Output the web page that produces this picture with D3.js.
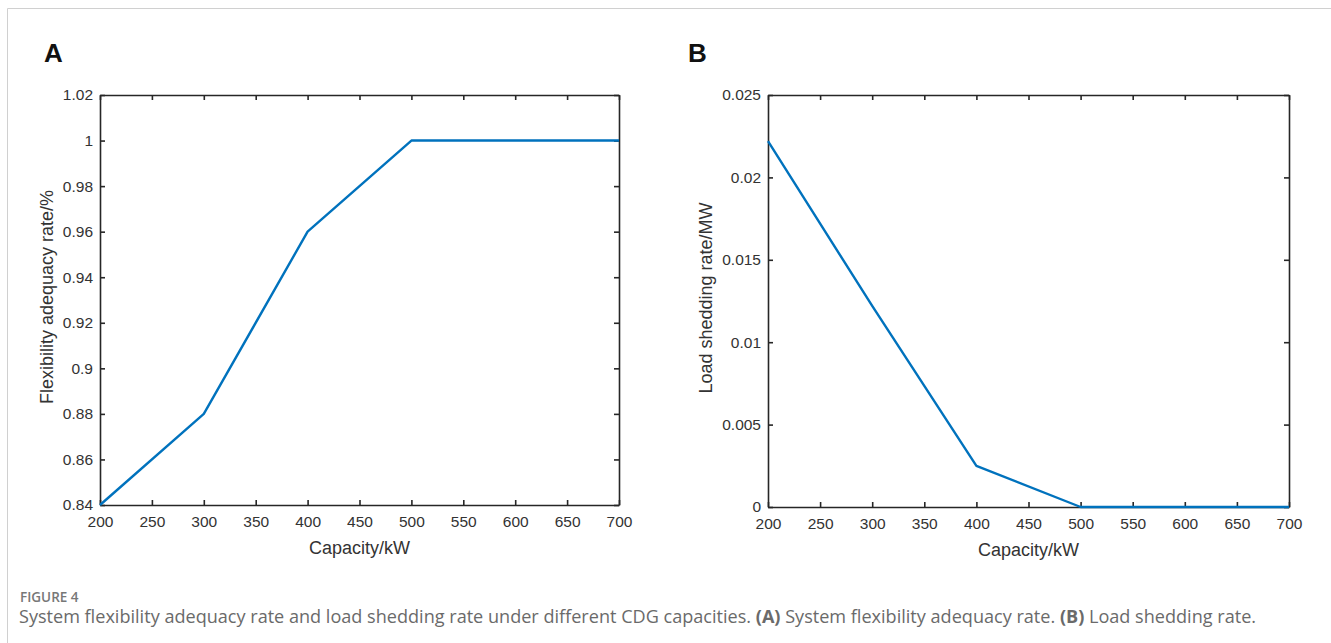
<!DOCTYPE html>
<html>
<head>
<meta charset="utf-8">
<script src="https://cdn.jsdelivr.net/npm/d3@7"></script>
<style>
  body { margin: 0; background: #fff; }
  svg { display: block; }
</style>
</head>
<body>
<svg width="1331" height="643"></svg>
<script>
// capacity values (kW)
const capacity = [200, 300, 400, 500, 600, 700];
const adequacyRate = [0.84, 0.88, 0.96, 1, 1, 1];
const sheddingRate = [0.0222, 0.0122, 0.0025, 0, 0, 0];

const xTicks = [200, 250, 300, 350, 400, 450, 500, 550, 600, 650, 700];
const yTicksA = [0.84, 0.86, 0.88, 0.9, 0.92, 0.94, 0.96, 0.98, 1, 1.02];
const yTicksB = [0, 0.005, 0.01, 0.015, 0.02, 0.025];

const svg = d3.select("svg");
const fmt = d3.format("~g");
const lineColor = "#0072bd";
const axisColor = "#262626";
const font = "Liberation Sans, Arial, sans-serif";

// card border
svg.append("path")
  .attr("d", "M7.5,643 V8.5 H1331")
  .attr("fill", "none")
  .attr("stroke", "#d0d0d0")
  .attr("stroke-width", 1);

function drawPanel(opts) {
  const x = d3.scaleLinear().domain([200, 700]).range([opts.left, opts.right]);
  const y = d3.scaleLinear().domain(opts.yDomain).range([opts.bottom, opts.top]);
  const g = svg.append("g");

  // panel letter
  g.append("text")
    .attr("x", opts.letterX).attr("y", 62)
    .attr("font-family", font)
    .attr("font-weight", "bold")
    .attr("font-size", 26)
    .attr("fill", "#111")
    .text(opts.letter);

  const tick = 5;
  const axes = [
    [d3.axisBottom(x).tickValues(xTicks).tickFormat(fmt).tickSizeInner(-tick).tickSizeOuter(0).tickPadding(11), `translate(0,${opts.bottom})`],
    [d3.axisTop(x).tickValues(xTicks).tickSizeInner(-tick).tickSizeOuter(0).tickFormat(""), `translate(0,${opts.top})`],
    [d3.axisLeft(y).tickValues(opts.yTicks).tickFormat(fmt).tickSizeInner(-tick).tickSizeOuter(0).tickPadding(7), `translate(${opts.left},0)`],
    [d3.axisRight(y).tickValues(opts.yTicks).tickSizeInner(-tick).tickSizeOuter(0).tickFormat(""), `translate(${opts.right},0)`]
  ];
  axes.forEach(([ax, tr]) => {
    const a = g.append("g").attr("transform", tr).call(ax);
    a.select(".domain").attr("stroke", axisColor).attr("stroke-width", 1.6);
    a.selectAll(".tick line").attr("stroke", axisColor).attr("stroke-width", 1.6);
    a.selectAll("text")
      .attr("font-family", font)
      .attr("font-size", 15.5)
      .attr("fill", "#333");
  });

  // series
  const line = d3.line()
    .x((d, i) => x(capacity[i]))
    .y(d => y(d));
  g.append("path")
    .datum(opts.values)
    .attr("fill", "none")
    .attr("stroke", lineColor)
    .attr("stroke-width", 2.4)
    .attr("stroke-linejoin", "round")
    .attr("d", line);

  // axis titles
  g.append("text")
    .attr("x", (opts.left + opts.right) / 2)
    .attr("y", opts.bottom + 49)
    .attr("text-anchor", "middle")
    .attr("font-family", font)
    .attr("font-size", 18)
    .attr("fill", "#333")
    .text("Capacity/kW");

  g.append("text")
    .attr("transform", `translate(${opts.yTitleX},${(opts.top + opts.bottom) / 2 - 3}) rotate(-90)`)
    .attr("text-anchor", "middle")
    .attr("font-family", font)
    .attr("font-size", 18)
    .attr("fill", "#333")
    .text(opts.yTitle);
}

drawPanel({
  letter: "A", letterX: 44,
  left: 100, right: 619, top: 95, bottom: 505,
  yDomain: [0.84, 1.02], yTicks: yTicksA, values: adequacyRate,
  yTitle: "Flexibility adequacy rate/%", yTitleX: 53
});

drawPanel({
  letter: "B", letterX: 688,
  left: 768, right: 1289, top: 95, bottom: 507,
  yDomain: [0, 0.025], yTicks: yTicksB, values: sheddingRate,
  yTitle: "Load shedding rate/MW", yTitleX: 712
});

// caption
svg.append("text")
  .attr("x", 20).attr("y", 602)
  .attr("font-family", "Open Sans, Noto Sans, sans-serif")
  .attr("font-weight", 600)
  .attr("font-size", 13.5)
  .attr("fill", "#777")
  .text("FIGURE 4");

const cap = svg.append("text")
  .attr("x", 19).attr("y", 623)
  .attr("font-family", "Open Sans, Noto Sans, sans-serif")
  .attr("font-size", 16)
  .attr("fill", "#6a6a6a");
cap.append("tspan").text("System flexibility adequacy rate and load shedding rate under different CDG capacities. ");
cap.append("tspan").attr("font-weight", "bold").text("(A)");
cap.append("tspan").text(" System flexibility adequacy rate. ");
cap.append("tspan").attr("font-weight", "bold").text("(B)");
cap.append("tspan").text(" Load shedding rate.");
// fit caption to the width it takes in the figure
const capLen = cap.node().getComputedTextLength();
cap.attr("font-size", 16 * 1238 / capLen);
</script>
</body>
</html>
